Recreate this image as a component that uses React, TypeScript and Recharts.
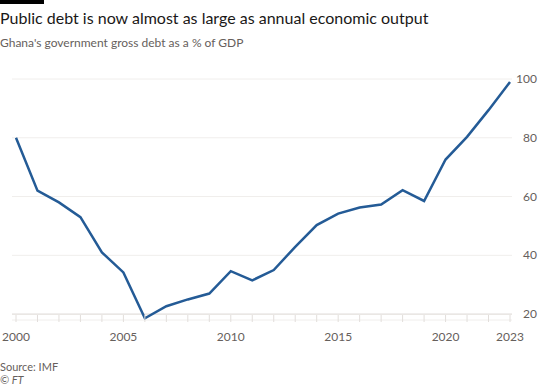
import { LineChart, Line, XAxis, YAxis, CartesianGrid, ReferenceLine } from "recharts";

const years = [
  2000, 2001, 2002, 2003, 2004, 2005, 2006, 2007, 2008, 2009, 2010, 2011,
  2012, 2013, 2014, 2015, 2016, 2017, 2018, 2019, 2020, 2021, 2022, 2023,
];
const debt = [
  80, 62, 58, 53, 41, 34.2, 18.6, 22.7, 25, 27, 34.6, 31.5,
  35, 42.9, 50.3, 54.2, 56.3, 57.3, 62.2, 58.5, 72.6, 80.3, 89.4, 99,
];
const labelYears = [2000, 2005, 2010, 2015, 2020, 2023];
const yTicks = [20, 40, 60, 80, 100];

const data = years.map((year, i) => ({ year, debt: debt[i] }));

const FONT = "Lato, 'Noto Sans', sans-serif";
const GREY = "#66605c";

const XTick = (props: any) => {
  const { x, y, payload } = props;
  const showLabel = labelYears.includes(payload.value);
  return (
    <g>
      <line x1={x} x2={x} y1={y - 5} y2={y + 2} stroke="#e2dedb" strokeWidth={1} />
      {showLabel && (
        <text x={x} y={y + 21} textAnchor="middle" fill={GREY} fontSize={12} fontFamily={FONT}>
          {payload.value}
        </text>
      )}
    </g>
  );
};

const YTick = (props: any) => {
  const { x, y, payload } = props;
  return (
    <text x={x + 25} y={y + 4} textAnchor="end" fill={GREY} fontSize={12} fontFamily={FONT}>
      {payload.value}
    </text>
  );
};

const line = (top: number, size: number, extra: any = {}) => ({
  position: "absolute" as const,
  left: 0,
  top,
  fontSize: size,
  lineHeight: `${size + 2}px`,
  whiteSpace: "nowrap" as const,
  ...extra,
});

export default function App() {
  return (
    <div style={{ position: "absolute", left: 0, top: 0, width: 540, height: 386, background: "#ffffff", fontFamily: FONT, overflow: "hidden" }}>
      <div style={{ position: "absolute", left: 0, top: 0, width: 44, height: 4, background: "#000" }} />
      <div style={line(9, 16, { color: "#1a1817" })}>
        Public debt is now almost as large as annual economic output
      </div>
      <div style={line(36, 12, { color: GREY })}>
        Ghana's government gross debt as a % of GDP
      </div>
      <div style={line(360, 11, { color: GREY })}>
        Source: IMF
      </div>
      <div style={line(373, 11, { color: GREY, fontStyle: "italic" })}>
        © FT
      </div>
      <div style={{ position: "absolute", left: 0, top: 0 }}>
        <LineChart width={540} height={386} data={data} margin={{ top: 79, right: 0, bottom: 36, left: 12 }}>
          <CartesianGrid horizontal vertical={false} stroke="#f0eeec" />
          <XAxis
            dataKey="year"
            type="number"
            domain={[2000, 2023]}
            ticks={years}
            interval={0}
            padding={{ left: 4, right: 2 }}
            axisLine={false}
            tickLine={false}
            tickSize={0}
            tickMargin={0}
            height={30}
            tick={<XTick />}
          />
          <YAxis
            orientation="right"
            domain={[18, 100]}
            ticks={yTicks}
            axisLine={false}
            tickLine={false}
            tickSize={0}
            tickMargin={0}
            width={28}
            tick={<YTick />}
          />
          <ReferenceLine y={20} stroke="#e2dedb" strokeWidth={1} />
          <Line
            type="linear"
            dataKey="debt"
            stroke="#245b96"
            strokeWidth={2.5}
            dot={false}
            isAnimationActive={false}
          />
        </LineChart>
      </div>
    </div>
  );
}
